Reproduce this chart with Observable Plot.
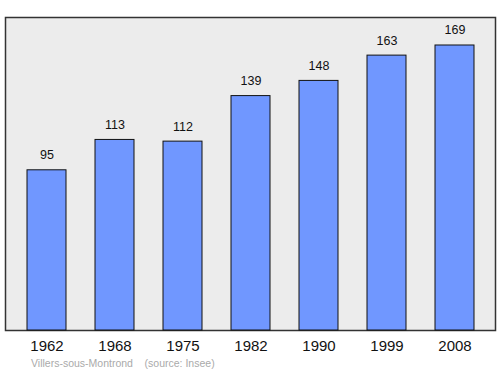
<!DOCTYPE html>
<html><head><meta charset="utf-8">
<script src="https://cdn.jsdelivr.net/npm/d3@7"></script>
<script src="https://cdn.jsdelivr.net/npm/@observablehq/plot@0.6"></script>
<style>
body{margin:0;background:#fff;font-family:"Liberation Sans",Arial,sans-serif;}
#cap{font-size:10.5px;color:#aaa;padding-left:31px;margin-top:0px;white-space:pre;}
</style></head>
<body><div id="chart"></div><div id="cap">Villers-sous-Montrond    (source: Insee)</div>
<script>
const years = ["1962","1968","1975","1982","1990","1999","2008"];
const population = [95,113,112,139,148,163,169];
const caption = "Villers-sous-Montrond    (source: Insee)";
const data = years.map((y,i)=>({year:y, pop:population[i]}));
const chart = Plot.plot({
  width:500, height:357,
  marginLeft:5, marginRight:5, marginTop:17, marginBottom:27,
  style:{fontFamily:"Liberation Sans, Arial, sans-serif", background:"#fff"},
  x:{domain:years, paddingInner:0.43, paddingOuter:0.307, label:null},
  y:{domain:[0,185.6], axis:null},
  marks:[
    Plot.frame({fill:"#ececec", stroke:"#333", strokeWidth:1.5}),
    Plot.barY(data,{x:"year", y:"pop", fill:"#7097ff", stroke:"#111", strokeWidth:1}),
    Plot.text(data,{x:"year", y:"pop", text:d=>String(d.pop), dy:-15, fontSize:12.5, fill:"#111"}),
    Plot.axisX({tickSize:0, tickPadding:10, fontSize:15, color:"#111", label:null})
  ]
});
document.getElementById("chart").appendChild(chart);
document.getElementById("cap").textContent = caption;
</script></body></html>
